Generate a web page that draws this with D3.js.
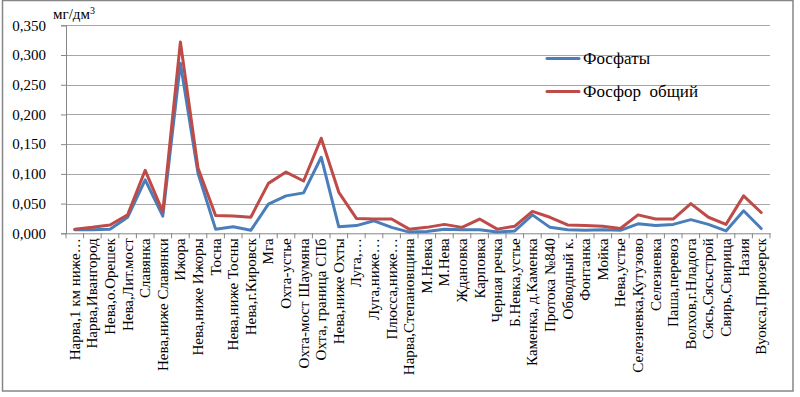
<!DOCTYPE html>
<html><head><meta charset="utf-8">
<script src="https://cdn.jsdelivr.net/npm/d3@7"></script>
</head>
<body style="margin:0;background:#fff">
<svg id="c" width="800" height="397" style="display:block">
<rect x="2.5" y="0.5" width="790.5" height="390.5" fill="#fff" stroke="#868686" stroke-width="1.5"></rect>
<text x="53" y="19" font-family="'Times New Roman', 'Liberation Serif', Tinos, serif" font-size="15" fill="#000">мг/дм<tspan dy="-5" font-size="10">3</tspan></text>
</svg>
<script>
const categories = ["Нарва,1 км ниже…","Нарва,Ивангород","Нева,о.Орешек","Нева,Лит.мост","Славянка","Нева,ниже Славянки","Ижора","Нева,ниже Ижоры","Тосна","Нева,ниже Тосны","Нева,г.Кировск","Мга","Охта-устье","Охта-мост Шаумяна","Охта, граница СПб","Нева,ниже Охты","Луга,…","Луга,ниже…","Плюсса,ниже…","Нарва,Степановщина","М.Невка","М.Нева","Ждановка","Карповка","Черная речка","Б.Невка,устье","Каменка, д.Каменка","Протока №840","Обводный к.","Фонтанка","Мойка","Нева,устье","Селезневка,Кутузово","Селезневка","Паша,перевоз","Волхов,г.Нладога","Сясь,Сясьстрой","Свирь,Свирица","Назия","Вуокса,Приозерск"];
const phosphates = [0.006,0.006,0.007,0.027,0.090,0.029,0.286,0.101,0.007,0.011,0.005,0.049,0.063,0.068,0.128,0.011,0.013,0.021,0.010,0.002,0.003,0.007,0.006,0.006,0.002,0.004,0.031,0.010,0.006,0.005,0.006,0.005,0.016,0.013,0.015,0.023,0.015,0.004,0.038,0.008];
const phosphorus = [0.007,0.010,0.014,0.031,0.106,0.036,0.322,0.110,0.030,0.029,0.027,0.084,0.103,0.088,0.160,0.069,0.025,0.024,0.024,0.007,0.010,0.015,0.010,0.024,0.007,0.012,0.037,0.027,0.014,0.013,0.012,0.008,0.031,0.024,0.024,0.050,0.027,0.015,0.063,0.035];
const yTicks = [0,0.05,0.1,0.15,0.2,0.25,0.3,0.35];
const seriesNames = ["Фосфаты","Фосфор  общий"];
const colors = ["#4a7ebb","#be4b48"];
const FONT = "'Times New Roman', 'Liberation Serif', Tinos, serif";

const svg = d3.select("#c");

const L=66, R=770, T=25.3, B=233.3;
const x = d3.scaleBand().domain(categories).range([L,R]);
const y = d3.scaleLinear().domain([0,0.35]).range([B,T]);
const fmt = v => d3.format(".3f")(v).replace(".",",");

svg.append("g").selectAll("line").data(yTicks.slice(1)).join("line")
  .attr("x1",L).attr("x2",R).attr("y1",d=>Math.round(y(d))+0.5).attr("y2",d=>Math.round(y(d))+0.5)
  .attr("stroke","#a6a6a6").attr("stroke-width",1);

const ya = svg.append("g").attr("transform",`translate(${L},0)`)
  .call(d3.axisLeft(y).tickValues(yTicks).tickFormat(fmt).tickSize(5).tickPadding(15));
ya.attr("font-family",FONT).attr("font-size",15);
ya.select(".domain").attr("stroke","#868686");
ya.selectAll(".tick line").attr("stroke","#868686");
ya.selectAll("text").attr("fill","#000").attr("font-family",FONT);

const xa = svg.append("g").attr("transform",`translate(0,${B})`)
  .call(d3.axisBottom(x).tickSize(0).tickPadding(0));
xa.select(".domain").attr("stroke","#868686");
xa.selectAll(".tick text").remove();
const boundaries = d3.range(categories.length+1).map(i=>L+i*x.step());
xa.selectAll("line.tk").data(boundaries).join("line").attr("class","tk")
  .attr("x1",d=>d).attr("x2",d=>d).attr("y1",0).attr("y2",5).attr("stroke","#868686");
svg.append("g").attr("font-family",FONT).attr("font-size",15).selectAll("text").data(categories).join("text")
  .attr("transform",d=>`translate(${x(d)+x.bandwidth()/2+5},${B+5}) rotate(-90)`)
  .attr("text-anchor","end").attr("fill","#000").attr("font-family",FONT)
  .style("white-space","pre").text(d=>d);

const line = d3.line().x((d,i)=>x(categories[i])+x.bandwidth()/2).y(d=>y(d));
[phosphates, phosphorus].forEach((s,k)=>{
  svg.append("path").datum(s).attr("d",line).attr("fill","none")
    .attr("stroke",colors[k]).attr("stroke-width",3).attr("stroke-linejoin","round").attr("stroke-linecap","round");
});

const lg = svg.append("g").attr("font-family",FONT).attr("font-size",17);
seriesNames.forEach((n,k)=>{
  const yy = 58.5 + k*33;
  lg.append("line").attr("x1",547).attr("x2",579).attr("y1",yy).attr("y2",yy)
    .attr("stroke",colors[k]).attr("stroke-width",3).attr("stroke-linecap","round");
  lg.append("text").attr("x",583).attr("y",yy+5).attr("fill","#000").attr("font-family",FONT)
    .style("white-space","pre").text(n);
});
</script></body></html>
